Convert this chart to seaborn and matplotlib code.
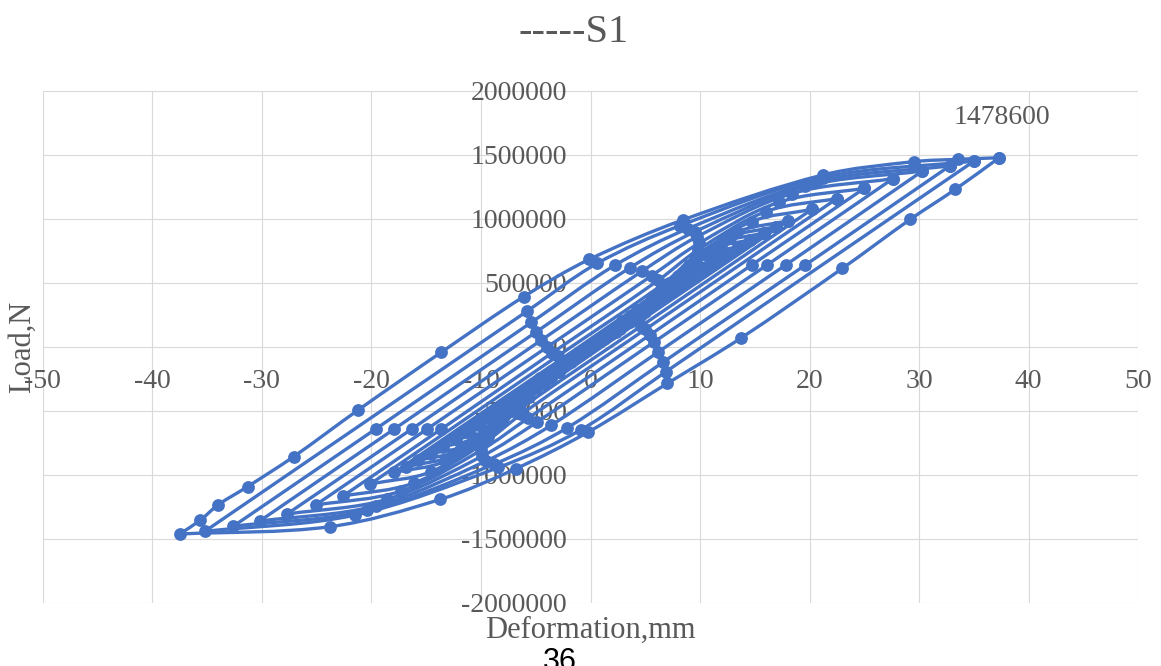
import numpy as np
import pandas as pd
import matplotlib
matplotlib.use("Agg")
import matplotlib.pyplot as plt
from matplotlib.path import Path
from matplotlib.patches import PathPatch
import seaborn as sns

# =========================
# Data (deformation mm, load N), one list per cycle,
# starting at the positive peak, going round the loop
# =========================

cyc01_x = [37.3, 33.3, 29.2, 23.0, 13.7, 7.0, -0.2, -6.8, -13.7, -23.8, -37.5,
           -35.6, -34.0, -31.3, -27.1, -21.2, -13.6, -6.1, -0.1, 8.4, 21.2, 29.5, 33.5, 37.3]
cyc01_y = [1478600, 1232000, 998000, 615000, 68000, -285000, -664000, -950000, -1190000, -1404000, -1461000,
           -1352000, -1234000, -1091000, -857000, -492000, -40000, 393000, 685000, 992000, 1344000, 1448000, 1466000, 1478600]

cyc02_x = [35.0, 6.9, -0.9, -8.4, -21.5, -35.2, -5.8, 0.6, 8.2, 21.2, 35.0]
cyc02_y = [1452000, -192000, -648000, -941000, -1313000, -1440000, 279000, 653000, 949000, 1324000, 1452000]

cyc03_x = [32.8, 19.6, 6.6, -2.1, -8.8, -20.4, -32.6, -19.6, -5.4, 2.2, 8.9, 20.6, 32.8]
cyc03_y = [1415000, 640000, -120000, -630000, -915000, -1277000, -1400000, -640000, 192000, 637000, 925000, 1291000, 1415000]

cyc04_x = [30.3, 17.8, 6.2, -3.6, -9.5, -19.6, -30.2, -17.9, -5.0, 3.6, 9.5, 19.6, 30.3]
cyc04_y = [1375000, 640000, -38000, -612000, -889000, -1240000, -1360000, -640000, 115000, 619000, 899000, 1254000, 1375000]

cyc05_x = [27.6, 16.1, 5.8, -4.9, -9.9, -18.6, -27.7, -16.3, -4.5, 4.7, 9.7, 18.4, 27.6]
cyc05_y = [1315000, 640000, 39000, -587000, -853000, -1190000, -1305000, -640000, 53000, 592000, 860000, 1199000, 1315000]

cyc06_x = [25.0, 14.7, 5.4, -5.7, -10.0, -17.3, -25.1, -14.9, -4.0, 5.6, 9.9, 17.2, 25.0]
cyc06_y = [1240000, 640000, 93000, -556000, -807000, -1126000, -1235000, -640000, -3000, 558000, 810000, 1131000, 1240000]

cyc07_x = [22.5, 5.0, -6.3, -9.9, -16.1, -22.6, -13.6, -3.5, 6.2, 9.8, 16.0, 22.5]
cyc07_y = [1160000, 137000, -524000, -761000, -1062000, -1165000, -640000, -46000, 522000, 758000, 1058000, 1160000]

cyc08_x = [20.2, 4.6, -6.4, -9.4, -14.6, -20.1, -3.0, 6.5, 9.5, 14.7, 20.2]
cyc08_y = [1075000, 162000, -482000, -700000, -976000, -1070000, -71000, 484000, 703000, 980000, 1075000]

cyc09_x = [18.0, -6.4, -8.9, -13.3, -17.9, 6.4, 9.0, 13.4, 18.0]
cyc09_y = [985000, -441000, -640000, -894000, -980000, 443000, 644000, 898000, 985000]

cyc10_x = [16.9, -6.3, -8.6, -12.6, -16.8, 6.4, 8.7, 12.7, 16.9]
cyc10_y = [940000, -420000, -610000, -850000, -935000, 422000, 613000, 855000, 940000]

cyc11_x = [15.8, -6.2, -8.3, -11.9, -15.7, 6.3, 8.4, 12.0, 15.8]
cyc11_y = [890000, -398000, -578000, -807000, -885000, 401000, 582000, 812000, 890000]

cyc12_x = [14.6, -6.1, -8.0, -11.2, -14.6, 6.1, 8.0, 11.3, 14.6]
cyc12_y = [838000, -376000, -545000, -764000, -834000, 378000, 548000, 768000, 838000]

cyc13_x = [13.5, -5.9, -7.6, -10.5, -13.5, 5.9, 7.6, 10.5, 13.5]
cyc13_y = [785000, -351000, -510000, -711000, -780000, 353000, 513000, 716000, 785000]

cyc14_x = [12.3, -5.7, -7.2, -9.7, -12.3, 5.6, 7.1, 9.6, 12.3]
cyc14_y = [728000, -325000, -472000, -662000, -722000, 328000, 475000, 667000, 728000]

cyc15_x = [11.2, -5.4, -6.7, -8.9, -11.2, 5.3, 6.6, 8.8, 11.2]
cyc15_y = [670000, -299000, -434000, -606000, -665000, 302000, 438000, 611000, 670000]

cyc16_x = [10.1, -5.0, -6.1, -8.0, -10.1, 5.0, 6.1, 8.0, 10.1]
cyc16_y = [610000, -272000, -396000, -552000, -606000, 275000, 399000, 556000, 610000]

cyc17_x = [9.0, -4.6, -5.6, -7.2, -9.0, 4.6, 5.6, 7.2, 9.0]
cyc17_y = [550000, -245000, -356000, -497000, -545000, 248000, 360000, 502000, 550000]

cyc18_x = [8.0, -4.1, -5.0, -6.4, -8.0, 4.1, 5.0, 6.4, 8.0]
cyc18_y = [490000, -218000, -317000, -442000, -485000, 221000, 320000, 446000, 490000]

cyc19_x = [7.0, -3.6, -4.3, -5.6, -7.0, 3.6, 4.3, 5.6, 7.0]
cyc19_y = [430000, -191000, -278000, -388000, -425000, 194000, 281000, 392000, 430000]

cyc20_x = [5.2, -2.7, -3.3, -4.2, -5.2, 2.7, 3.3, 4.2, 5.2]
cyc20_y = [320000, -142000, -206000, -287000, -315000, 144000, 209000, 292000, 320000]

cyc21_x = [4.4, -2.3, -2.8, -3.6, -4.4, 2.3, 2.8, 3.6, 4.4]
cyc21_y = [270000, -120000, -174000, -243000, -267000, 121000, 176000, 246000, 270000]

cyc22_x = [3.6, -1.9, -2.3, -2.9, -3.6, 1.9, 2.3, 2.9, 3.6]
cyc22_y = [220000, -98000, -142000, -199000, -218000, 99000, 144000, 201000, 220000]

cyc23_x = [2.2, -1.2, -1.8, -2.2, 1.2, 1.8, 2.2]
cyc23_y = [135000, -60000, -121000, -133000, 61000, 122000, 135000]

cyc24_x = [1.0, -0.5, -1.0, 0.5, 1.0]
cyc24_y = [62000, -27000, -60000, 28000, 62000]

x_ticks = [-50, -40, -30, -20, -10, 0, 10, 20, 30, 40, 50]
y_ticks = [-2000000, -1500000, -1000000, -500000, 0, 500000, 1000000, 1500000, 2000000]

TITLE = "-----S1"
X_LABEL = "Deformation,mm"
Y_LABEL = "Load,N"
PAGE_NO = "36"

cycles = [
    (cyc01_x, cyc01_y), (cyc02_x, cyc02_y), (cyc03_x, cyc03_y),
    (cyc04_x, cyc04_y), (cyc05_x, cyc05_y), (cyc06_x, cyc06_y),
    (cyc07_x, cyc07_y), (cyc08_x, cyc08_y), (cyc09_x, cyc09_y),
    (cyc10_x, cyc10_y), (cyc11_x, cyc11_y), (cyc12_x, cyc12_y),
    (cyc13_x, cyc13_y), (cyc14_x, cyc14_y), (cyc15_x, cyc15_y),
    (cyc16_x, cyc16_y), (cyc17_x, cyc17_y), (cyc18_x, cyc18_y),
    (cyc19_x, cyc19_y), (cyc20_x, cyc20_y), (cyc21_x, cyc21_y),
    (cyc22_x, cyc22_y), (cyc23_x, cyc23_y), (cyc24_x, cyc24_y),
]

BLUE = "#4472C4"
GREY = "#595959"
GRID = "#D9D9D9"
W, H = 1161, 666


# =========================
# Figure
# =========================

sns.set_theme(style="white")
plt.rcParams["font.family"] = ["Liberation Serif", "DejaVu Serif"]

fig = plt.figure(figsize=(W / 100, H / 100), dpi=100)

ax = fig.add_axes([42.7 / W, 63 / H, 1095.6 / W, 512 / H])
ax.set_xlim(-50, 50)
ax.set_ylim(-2000000, 2000000)

# px per data unit, so the smoothing works in screen space
sx = 1095.6 / 100
sy = 512 / 4000000


def smooth_path(xs, ys):
    pts = np.column_stack([np.asarray(xs, float) * sx, np.asarray(ys, float) * sy])
    n = len(pts)
    tang = np.zeros_like(pts)
    for i in range(n):
        if i == 0:
            d = pts[1] - pts[0]
        elif i == n - 1:
            d = pts[-1] - pts[-2]
        else:
            d = pts[i + 1] - pts[i - 1]
        tang[i] = d / np.hypot(*d)
    verts = [pts[0]]
    codes = [Path.MOVETO]
    for i in range(n - 1):
        seg = np.hypot(*(pts[i + 1] - pts[i])) / 3
        verts += [pts[i] + tang[i] * seg, pts[i + 1] - tang[i + 1] * seg, pts[i + 1]]
        codes += [Path.CURVE4] * 3
    verts = np.array(verts)
    verts[:, 0] /= sx
    verts[:, 1] /= sy
    return Path(verts, codes)


# gridlines
for v in x_ticks:
    ax.axvline(v, color=GRID, lw=0.8, zorder=0.5)
for v in y_ticks:
    ax.axhline(v, color=GRID, lw=0.8, zorder=0.5)

# loops: split at negative peak -> two open branches (sharp peaks)
rows = []
for k, (cx, cy) in enumerate(cycles):
    i_min = int(np.argmin(cy))
    for bx, by in [(cx[: i_min + 1], cy[: i_min + 1]), (cx[i_min:], cy[i_min:])]:
        ax.add_patch(PathPatch(smooth_path(bx, by), facecolor="none",
                               edgecolor=BLUE, lw=2.4, zorder=2))
    for px, py in zip(cx, cy):
        rows.append({"cycle": k + 1, "deformation": px, "load": py})

pts = pd.DataFrame(rows)

sns.scatterplot(
    data=pts,
    x="deformation",
    y="load",
    color=BLUE,
    s=85,
    linewidth=0,
    legend=False,
    zorder=2.2,
    ax=ax,
)

# peak label
peak = pts.loc[pts["load"].idxmax()]
ax.annotate(
    f"{int(peak['load'])}",
    xy=(peak["deformation"], peak["load"]),
    xytext=(3, 40),
    textcoords="offset pixels",
    ha="center",
    va="center",
    fontsize=20,
    color=GREY,
    zorder=3,
)

# axes through the origin, labels next to them
for s in ax.spines.values():
    s.set_visible(False)
ax.spines["left"].set_position(("data", 0))
ax.spines["bottom"].set_position(("data", 0))

ax.set_xticks(x_ticks)
ax.set_yticks(y_ticks)
ax.set_xticklabels([str(v) for v in x_ticks])
ax.set_yticklabels([str(v) for v in y_ticks])
ax.tick_params(axis="x", length=0, pad=15.5, labelsize=20, labelcolor=GREY)
ax.tick_params(axis="y", length=0, pad=17, labelsize=20, labelcolor=GREY)
ax.set_xlabel("")
ax.set_ylabel("")

# texts
fig.text(573 / W, 1 - 42 / H, TITLE, ha="center", va="baseline",
         fontsize=29, color=GREY)
fig.text(590 / W, 1 - 638 / H, X_LABEL, ha="center", va="baseline",
         fontsize=22, color=GREY)
fig.text(22 / W, 1 - 347 / H, Y_LABEL, ha="center", va="center",
         rotation=90, fontsize=22, color=GREY)
fig.text(560 / W, 1 - 647 / H, PAGE_NO, ha="center", va="top",
         fontsize=22, color="black", family="Liberation Sans")

fig.savefig("out.png", dpi=100)
